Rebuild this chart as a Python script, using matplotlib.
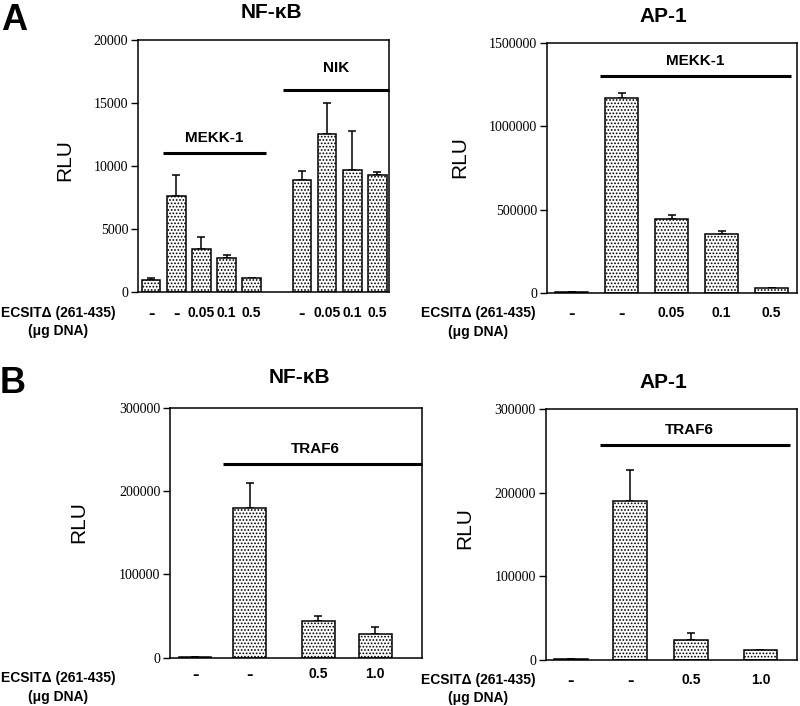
import matplotlib
matplotlib.use("Agg")
import matplotlib.pyplot as plt

plt.rcParams['font.family'] = ['Liberation Sans', 'DejaVu Sans']
plt.rcParams['hatch.linewidth'] = 0.8
plt.rcParams['hatch.color'] = 'black'

# panel A, NF-kB (MEKK-1 then NIK)
a_nfkb_pos = [0, 1, 2, 3, 4, 6, 7, 8, 9]
a_nfkb_labels = ['-', '-', '0.05', '0.1', '0.5', '-', '0.05', '0.1', '0.5']
a_nfkb_vals = [950, 7600, 3400, 2700, 1150, 8900, 12550, 9650, 9300]
a_nfkb_err = [200, 1650, 950, 200, 0, 700, 2450, 3100, 250]

# panel A, AP-1 (MEKK-1)
a_ap1_pos = [0, 1, 2, 3, 4]
a_ap1_labels = ['-', '-', '0.05', '0.1', '0.5']
a_ap1_vals = [5000, 1170000, 442000, 352000, 28000]
a_ap1_err = [0, 30000, 26000, 20000, 0]

# panel B, NF-kB (TRAF6)
b_nfkb_pos = [0, 1, 2.24, 3.28]
b_nfkb_labels = ['-', '-', '0.5', '1.0']
b_nfkb_vals = [1000, 180000, 44500, 28500]
b_nfkb_err = [0, 30000, 5500, 8500]

# panel B, AP-1 (TRAF6)
b_ap1_pos = [0, 0.99, 2.0, 3.16]
b_ap1_labels = ['-', '-', '0.5', '1.0']
b_ap1_vals = [1000, 190000, 24000, 12500]
b_ap1_err = [0, 37000, 8500, 0]

W, H = 800, 706
fig = plt.figure(figsize=(W / 100, H / 100), dpi=100)


def px(x, y):
    return x / W, 1 - y / H


def make_axes(l, t, r, b):
    x0, y1 = px(l, t)
    x1, y0 = px(r, b)
    return fig.add_axes([x0, y0, x1 - x0, y1 - y0])


def draw_panel(ax, pos, vals, err, labels, width, xlim, ymax, yticks, pad):
    ax.bar(pos, vals, width=width, color='white', edgecolor='black',
           linewidth=1.1, hatch='.....', zorder=2)
    ax.errorbar(pos, vals, yerr=[[0] * len(err), err], fmt='none',
                ecolor='black', elinewidth=1.1, capsize=3, capthick=1.1, zorder=1)
    ax.set_xlim(*xlim)
    ax.set_ylim(0, ymax)
    ax.set_yticks(yticks)
    ax.set_yticklabels([str(v) for v in yticks], family='Liberation Serif', fontsize=10)
    ax.set_xticks(pos)
    ax.set_xticklabels(labels, fontweight='bold', fontsize=10)
    for t in ax.get_xticklabels():
        if t.get_text() == '-':
            t.set_fontsize(14)
    ax.tick_params(axis='x', length=0, pad=pad)
    ax.tick_params(axis='y', length=5, width=1, direction='out', pad=2)
    for s in ax.spines.values():
        s.set_linewidth(1.1)


def group_line(ax, x0, x1, y, ytxt, xtxt, text):
    ax.plot([x0, x1], [y, y], color='black', lw=2.2, solid_capstyle='butt',
            clip_on=False)
    ax.text(xtxt, ytxt, text, ha='center', va='center', fontweight='bold', fontsize=11)


def fig_text(x, y, s, **kw):
    kw.setdefault('va', 'center')
    fig.text(*px(x, y), s, **kw)


# A left
ax1 = make_axes(138, 40, 389, 292)
draw_panel(ax1, a_nfkb_pos, a_nfkb_vals, a_nfkb_err, a_nfkb_labels, 0.74,
           (-0.52, 9.46), 20000, [0, 5000, 10000, 15000, 20000], 10)
group_line(ax1, 0.48, 4.56, 11000, 12250, 2.52, 'MEKK-1')
group_line(ax1, 5.24, 9.46, 16000, 17800, 7.36, 'NIK')

# A right
ax2 = make_axes(546.7, 43, 797, 293)
draw_panel(ax2, a_ap1_pos, a_ap1_vals, a_ap1_err, a_ap1_labels, 0.66,
           (-0.5, 4.51), 1500000, [0, 500000, 1000000, 1500000], 9)
group_line(ax2, 0.57, 4.38, 1300000, 1390000, 2.47, 'MEKK-1')

# B left
ax3 = make_axes(170, 407.7, 422, 657.7)
draw_panel(ax3, b_nfkb_pos, b_nfkb_vals, b_nfkb_err, b_nfkb_labels, 0.6,
           (-0.455, 4.13), 300000, [0, 100000, 200000, 300000], 7)
group_line(ax3, 0.51, 4.13, 232000, 250000, 2.18, 'TRAF6')

# B right
ax4 = make_axes(545.7, 409.3, 797, 660)
draw_panel(ax4, b_ap1_pos, b_ap1_vals, b_ap1_err, b_ap1_labels, 0.56,
           (-0.42, 3.77), 300000, [0, 100000, 200000, 300000], 9)
group_line(ax4, 0.48, 3.66, 257000, 275000, 1.98, 'TRAF6')

# titles and panel letters
fig_text(1, 30, 'A', fontsize=26, fontweight='bold', ha='left', va='baseline')
fig_text(0, 393, 'B', fontsize=26, fontweight='bold', ha='left', va='baseline')
fig_text(271, 12, 'NF-κB', fontsize=15, fontweight='bold', ha='center')
fig_text(663, 16, 'AP-1', fontsize=15, fontweight='bold', ha='center')
fig_text(299, 377, 'NF-κB', fontsize=15, fontweight='bold', ha='center')
fig_text(663, 382, 'AP-1', fontsize=15, fontweight='bold', ha='center')

# RLU axis labels
for x, y in [(65, 160), (460, 157), (79, 522), (465, 528)]:
    fig_text(x, y, 'RLU', fontsize=15, rotation=90, ha='center')

# row labels
for x, y1, y2 in [(58, 313, 331), (478, 313, 332), (58, 678, 697), (478, 680, 698)]:
    fig_text(x, y1, 'ECSITΔ (261-435)', fontsize=10, fontweight='bold', ha='center')
    fig_text(x, y2, '(μg DNA)', fontsize=10, fontweight='bold', ha='center')

fig.savefig('out.png', dpi=100)
